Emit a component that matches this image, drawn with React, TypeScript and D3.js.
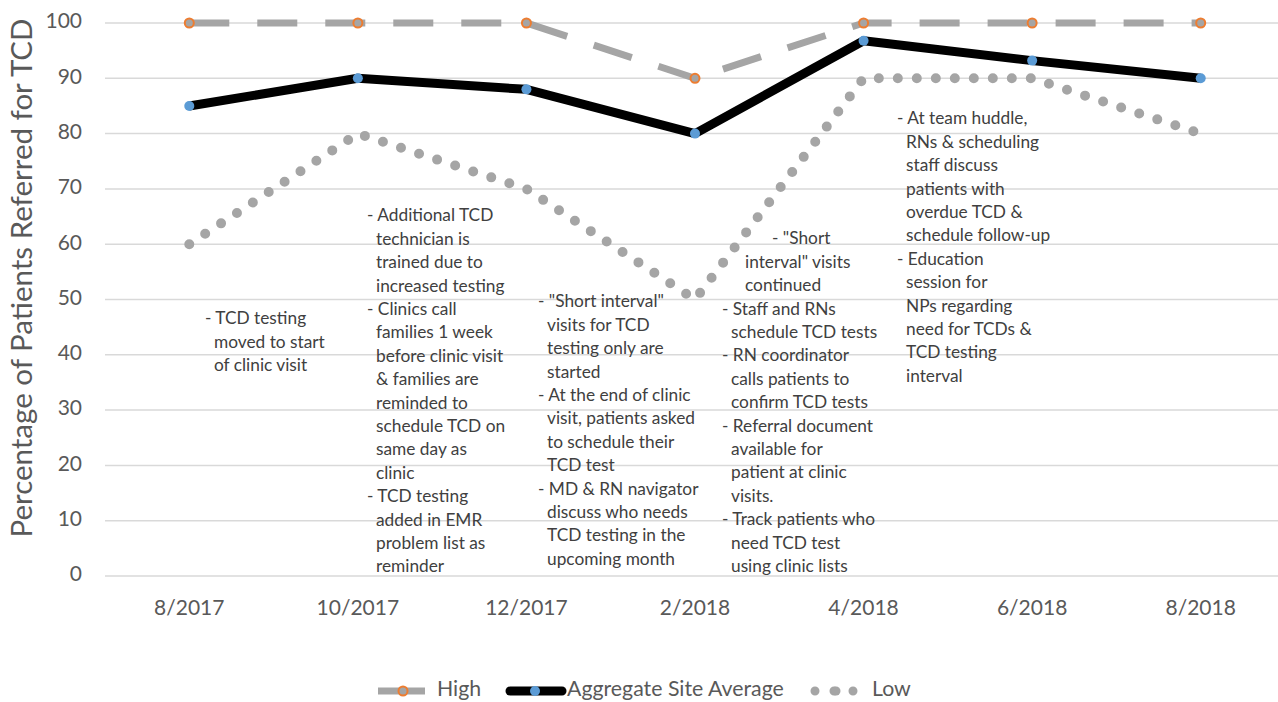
import React from "react";
import * as d3 from "d3";

const categories = ["8/2017", "10/2017", "12/2017", "2/2018", "4/2018", "6/2018", "8/2018"];
const highValues = [100, 100, 100, 90, 100, 100, 100];
const averageValues = [85, 90, 88, 80, 96.8, 93.2, 90];
const lowValues = [60, 80, 70, 50, 90, 90, 80];
const yTicks = [0, 10, 20, 30, 40, 50, 60, 70, 80, 90, 100];
const seriesNames = ["High", "Aggregate Site Average", "Low"];

const annotation1 = ["- TCD testing", "moved to start", "of clinic visit"];
const annotation2 = [
  "- Additional TCD", "technician is", "trained due to", "increased testing",
  "- Clinics call", "families 1 week", "before clinic visit", "& families are",
  "reminded to", "schedule TCD on", "same day as", "clinic",
  "- TCD testing", "added in EMR", "problem list as", "reminder",
];
const annotation3 = [
  "- \"Short interval\"", "visits for TCD", "testing only are", "started",
  "- At the end of clinic", "visit, patients asked", "to schedule their", "TCD test",
  "- MD & RN navigator", "discuss who needs", "TCD testing in the", "upcoming month",
];
const annotation4 = [
  "- \"Short", "interval\" visits", "continued",
  "- Staff and RNs", "schedule TCD tests", "- RN coordinator", "calls patients to",
  "confirm TCD tests", "- Referral document", "available for", "patient at clinic",
  "visits.", "- Track patients who", "need TCD test", "using clinic lists",
];
const annotation5 = [
  "- At team huddle,", "RNs & scheduling", "staff discuss", "patients with",
  "overdue TCD &", "schedule follow-up", "- Education", "session for",
  "NPs regarding", "need for TCDs &", "TCD testing", "interval",
];

const W = 1278;
const H = 702;
const FONT = "Lato, 'Open Sans', sans-serif";
const TEXT = "#404040";
const AXIS = "#595959";
const GRID = "#d9d9d9";
const GRAY = "#a5a5a5";
const ORANGE = "#ed7d31";
const BLUE = "#5b9bd5";

const x = d3.scalePoint<string>().domain(categories).range([105, 1285]).padding(0.5);
const y = d3.scaleLinear().domain([0, 100]).range([576, 23]);

const lineGen = d3
  .line<number>()
  .x((_, i) => x(categories[i]) as number)
  .y((d) => y(d));

type Ann = { lines: string[]; x: number; y: number; xs?: Record<number, number> };

const LH = 23.4;

function Annotation({ a }: { a: Ann }) {
  return (
    <text fontFamily={FONT} fontSize={17.3} fill={TEXT}>
      {a.lines.map((l, i) => {
        const lx = a.xs && a.xs[i] !== undefined ? a.xs[i] : l.startsWith("- ") ? a.x : a.x + 9;
        return (
          <tspan key={i} x={lx} y={a.y + i * LH} dominantBaseline="middle">
            {l}
          </tspan>
        );
      })}
    </text>
  );
}

export default function App() {
  const anns: Ann[] = [
    { lines: annotation1, x: 205, y: 320 },
    { lines: annotation2, x: 367, y: 217 },
    { lines: annotation3, x: 538, y: 303 },
    { lines: annotation4, x: 722, y: 240, xs: { 0: 772, 1: 745, 2: 745 } },
    { lines: annotation5, x: 897, y: 120 },
  ];

  return (
    <svg
      width={W}
      height={H}
      style={{ position: "absolute", left: 0, top: 0, background: "#fff" }}
    >
      {yTicks.map((t) => (
        <line key={t} x1={105} x2={W} y1={y(t)} y2={y(t)} stroke={GRID} strokeWidth={1.5} />
      ))}
      {yTicks.map((t) => (
        <text
          key={t}
          x={82}
          y={y(t)}
          textAnchor="end"
          dominantBaseline="middle"
          fontFamily={FONT}
          fontSize={21}
          fill={AXIS}
        >
          {t}
        </text>
      ))}
      {categories.map((c) => (
        <text
          key={c}
          x={x(c) as number}
          y={610}
          textAnchor="middle"
          dominantBaseline="middle"
          fontFamily={FONT}
          fontSize={21}
          fill={AXIS}
        >
          {c}
        </text>
      ))}
      <text
        transform="translate(25,278) rotate(-90)"
        textAnchor="middle"
        dominantBaseline="middle"
        fontFamily={FONT}
        fontSize={29.5}
        fill={AXIS}
      >
        Percentage of Patients Referred for TCD
      </text>

      {anns.map((a, i) => (
        <Annotation key={i} a={a} />
      ))}

      <path
        d={lineGen(highValues) || ""}
        fill="none"
        stroke={GRAY}
        strokeWidth={7}
        strokeDasharray="40 28"
      />
      <path
        d={lineGen(averageValues) || ""}
        fill="none"
        stroke="#000"
        strokeWidth={9}
        strokeLinejoin="round"
      />
      <path
        d={lineGen(lowValues) || ""}
        fill="none"
        stroke={GRAY}
        strokeWidth={10}
        strokeLinecap="round"
        strokeDasharray="0 19"
      />
      {highValues.map((v, i) => (
        <circle
          key={"h" + i}
          cx={x(categories[i]) as number}
          cy={y(v)}
          r={4.5}
          fill={GRAY}
          stroke={ORANGE}
          strokeWidth={2}
        />
      ))}
      {averageValues.map((v, i) => (
        <circle key={"a" + i} cx={x(categories[i]) as number} cy={y(v)} r={5} fill={BLUE} />
      ))}

      <g fontFamily={FONT} fontSize={21.3} fill={AXIS}>
        <line x1={378} x2={425} y1={691} y2={691} stroke={GRAY} strokeWidth={7} />
        <circle cx={403} cy={691} r={4.5} fill={GRAY} stroke={ORANGE} strokeWidth={2} />
        <text x={437} y={691} dominantBaseline="middle">{seriesNames[0]}</text>

        <line x1={510} x2={562} y1={691} y2={691} stroke="#000" strokeWidth={9} strokeLinecap="round" />
        <circle cx={535} cy={691} r={5} fill={BLUE} />
        <text x={567} y={691} dominantBaseline="middle">{seriesNames[1]}</text>

        <line x1={815} x2={858} y1={691} y2={691} stroke={GRAY} strokeWidth={9} strokeLinecap="round" strokeDasharray="0 19" />
        <circle cx={836} cy={691} r={4.5} fill={GRAY} />
        <text x={872} y={691} dominantBaseline="middle">{seriesNames[2]}</text>
      </g>
    </svg>
  );
}
